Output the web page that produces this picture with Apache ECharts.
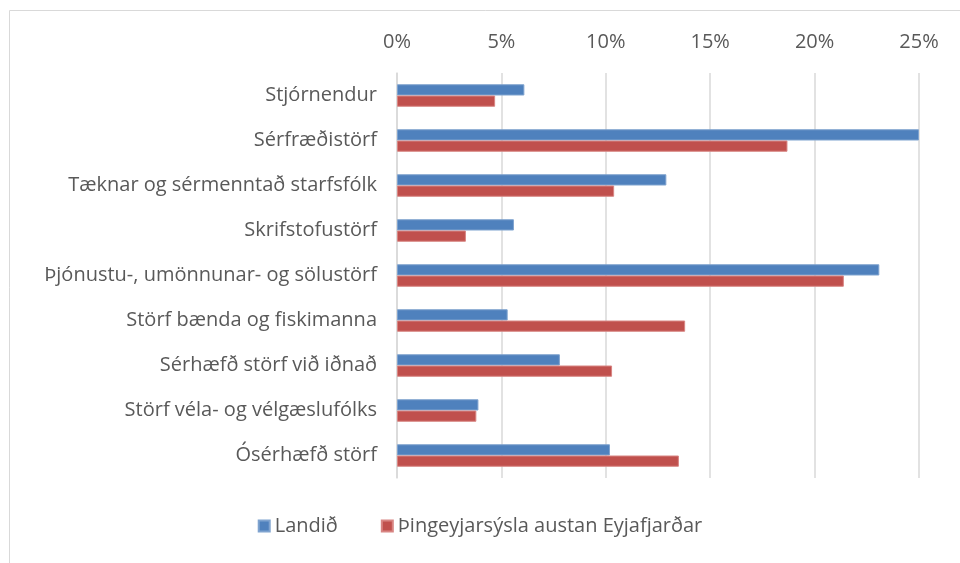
<!DOCTYPE html>
<html>
<head>
<meta charset="utf-8">
<script src="https://cdn.jsdelivr.net/npm/echarts@6/dist/echarts.min.js"></script>
<style>
  html, body { margin: 0; padding: 0; background: #fff; }
  #chart { width: 960px; height: 563px; }
</style>
</head>
<body>
<div id="chart"></div>
<script>
// flokkar starfa
const categories = [
    'Stjórnendur',
    'Sérfræðistörf',
    'Tæknar og sérmenntað starfsfólk',
    'Skrifstofustörf',
    'Þjónustu-, umönnunar- og sölustörf',
    'Störf bænda og fiskimanna',
    'Sérhæfð störf við iðnað',
    'Störf véla- og vélgæslufólks',
    'Ósérhæfð störf'
];
const landid = [6.1, 25.0, 12.9, 5.6, 23.1, 5.3, 7.8, 3.9, 10.2];
const thingeyjarsysla = [4.7, 18.7, 10.4, 3.3, 21.4, 13.8, 10.3, 3.8, 13.5];
const seriesNames = ['Landið', 'Þingeyjarsýsla austan Eyjafjarðar'];

const font = 'Open Sans';
const chart = echarts.init(document.getElementById('chart'));
chart.setOption({
    animation: false,
    textStyle: { fontFamily: font },
    graphic: [{
        type: 'rect',
        shape: { x: 9.5, y: 10.5, width: 1000, height: 600 },
        style: { fill: 'none', stroke: '#d9d9d9', lineWidth: 1 }
    }],
    grid: { left: 397, right: 41, top: 73, bottom: 85, containLabel: false },
    legend: {
        bottom: 22,
        left: 'center',
        itemWidth: 11,
        itemHeight: 11,
        itemGap: 43,
        icon: 'rect',
        textStyle: { color: '#595959', fontSize: 20, fontFamily: font }
    },
    xAxis: {
        type: 'value',
        position: 'top',
        min: 0,
        max: 25,
        interval: 5,
        axisLine: { show: false },
        axisTick: { show: false },
        axisLabel: { formatter: '{value}%', color: '#595959', fontSize: 20, margin: 21 },
        splitLine: { lineStyle: { color: '#d9d9d9', width: 1.5 } }
    },
    yAxis: {
        type: 'category',
        data: categories,
        inverse: true,
        axisLine: { lineStyle: { color: '#d9d9d9', width: 1.5 } },
        axisTick: { show: false },
        axisLabel: { color: '#595959', fontSize: 20, margin: 20 }
    },
    series: [
        {
            name: seriesNames[0],
            type: 'bar',
            data: landid,
            barGap: '0%',
            barCategoryGap: '50%',
            itemStyle: { color: '#4f81bd', borderColor: '#7fa3cf', borderWidth: 1 }
        },
        {
            name: seriesNames[1],
            type: 'bar',
            data: thingeyjarsysla,
            itemStyle: { color: '#c0504d', borderColor: '#d88583', borderWidth: 1 }
        }
    ]
});
</script>
</body>
</html>
